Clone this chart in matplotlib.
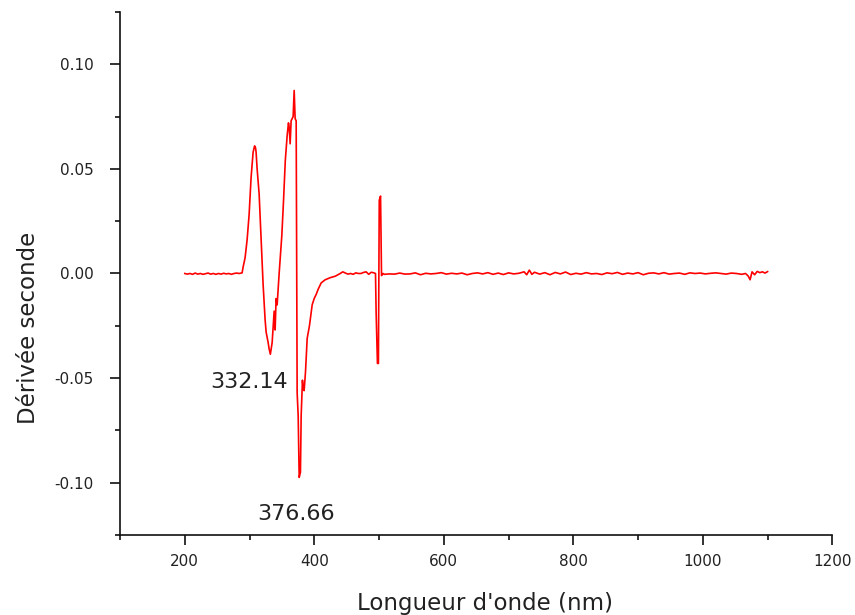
import numpy as np
import matplotlib
matplotlib.use("Agg")
import matplotlib.pyplot as plt
from matplotlib.ticker import MultipleLocator, FormatStrFormatter

plt.rcParams["font.family"] = ["DejaVu Sans"]
plt.rcParams["axes.unicode_minus"] = False

# Baseline before the absorption band (nm, second derivative)
wl_start = [200, 204, 208, 212, 216, 220, 224, 228, 232, 236, 240, 244,
            248, 252, 256, 260, 264, 268, 272, 276, 280, 284]
d2_start = [0.0, -0.0003, 0.0, -0.0004, 0.0002, -0.0003, 0.0, -0.0004,
            -0.0001, 0.0002, -0.0003, 0.0, -0.0004, 0.0, -0.0003, 0.0001,
            -0.0002, 0.0, -0.0004, 0.0, 0.0002, 0.0]

# Main band 288-440 nm
wl_band = [288.5, 290.0, 293.1, 296.2, 299.3, 302.4, 305.5, 307.8, 309.3,
           310.1, 311.7, 314.8, 317.8, 320.9, 324.0, 325.6, 328.7, 330.2,
           332.14, 334.9, 338.0, 339.5, 341.0, 342.6, 345.7, 349.8, 352.5,
           355.2, 358.1, 360.1, 361.2, 362.7, 364.2, 367.3, 368.9, 370.4,
           372.0, 373.5, 375.1, 376.66, 378.6, 379.7, 381.7, 382.8, 384.3,
           386.4, 389.0, 392.5, 396.7, 399.8, 402.9, 406.0, 410.6, 416.8,
           424.6, 432.3, 440.0]
d2_band = [0.0003, 0.003, 0.0075, 0.016, 0.028, 0.046, 0.058, 0.061, 0.060,
           0.058, 0.050, 0.038, 0.017, -0.005, -0.022, -0.028, -0.033, -0.036,
           -0.0386, -0.033, -0.018, -0.027, -0.012, -0.015, 0.000, 0.018, 0.035,
           0.054, 0.066, 0.072, 0.070, 0.062, 0.073, 0.075, 0.0875, 0.074,
           0.073, -0.057, -0.068, -0.0975, -0.095, -0.068, -0.051, -0.055, -0.056,
           -0.047, -0.031, -0.025, -0.015, -0.012, -0.010, -0.0075, -0.0045, -0.003,
           -0.002, -0.0013, 0.0]

# Region around the sharp feature near 500 nm
wl_mid = [444, 448, 452, 456, 460, 464, 468, 472, 476, 480, 484, 488, 492,
          494.5, 495.5, 497.5, 499.0, 500.3, 502.3, 503.8, 506]
d2_mid = [0.0008, 0.0002, -0.0003, 0.0, -0.0004, 0.0003, 0.0, 0.0, 0.0005,
          0.0008, -0.0004, 0.0006, 0.0003,
          0.0, -0.019, -0.043, -0.043, 0.035, 0.037, -0.001, 0.0]

# Tail 508-1100 nm
wl_tail = [508, 516, 524, 532, 540, 548, 556, 564, 572, 580, 588, 596, 604,
           612, 620, 628, 636, 644, 652, 660, 668, 676, 684, 692, 700, 708,
           716, 724, 728, 732, 736, 740, 748, 756, 764, 772, 780, 788, 796,
           804, 812, 820, 828, 836, 844, 852, 860, 868, 876, 884, 892, 900,
           908, 916, 924, 932, 940, 948, 956, 964, 972, 980, 988, 996, 1004,
           1012, 1020, 1028, 1036, 1044, 1052, 1060, 1066, 1070, 1073, 1076,
           1080, 1084, 1088, 1092, 1096, 1100]
d2_tail = [-0.0004, -0.0002, -0.0003, 0.0002, -0.0003, -0.0002, 0.0003,
           -0.0006, 0.0001, -0.0002, 0.0, 0.0004, -0.0003, 0.0001, -0.0002,
           0.0002, -0.0006, 0.0, 0.0003, -0.0002, 0.0004, -0.0004, 0.0002,
           -0.0005, 0.0003, -0.0002, 0.0001, 0.0008, -0.0006, 0.0016, -0.0004,
           0.0006, -0.0003, 0.0004, -0.0006, 0.0005, -0.0002, 0.0007, -0.0005,
           0.0001, -0.0003, 0.0004, -0.0002, 0.0, -0.0005, 0.0003, -0.0001,
           0.0005, -0.0004, 0.0002, -0.0002, 0.0004, -0.0006, 0.0001, 0.0003,
           -0.0002, 0.0004, -0.0003, 0.0, 0.0002, -0.0004, 0.0003, 0.0, 0.0002,
           -0.0002, 0.0001, 0.0003, 0.0, -0.0003, 0.0002, 0.0, -0.0004, 0.0,
           -0.0012, -0.003, 0.0008, -0.0006, 0.0010, 0.0004, 0.0008, 0.0002,
           0.0009]

# Labelled minima and where their labels sit
peak_labels = ["332.14", "376.66"]
label_x = [299.0, 372.5]
label_y = [-0.052, -0.115]

wavelength = np.array(wl_start + wl_band + wl_mid + wl_tail)
second_deriv = np.array(d2_start + d2_band + d2_mid + d2_tail)

fig = plt.figure(figsize=(8.55, 6.15), dpi=100)
ax = fig.add_axes([0.1404, 0.1301, 0.8331, 0.8504])

ax.plot(wavelength, second_deriv, color="red", lw=1.2)

for txt, tx, ty in zip(peak_labels, label_x, label_y):
    ax.text(tx, ty, txt, fontsize=16, ha="center", va="center", color="#222222")

ax.set_xlim(100, 1200)
ax.set_ylim(-0.125, 0.125)

ax.xaxis.set_major_locator(MultipleLocator(200))
ax.xaxis.set_minor_locator(MultipleLocator(100))
ax.yaxis.set_major_locator(MultipleLocator(0.05))
ax.yaxis.set_minor_locator(MultipleLocator(0.025))
ax.yaxis.set_major_formatter(FormatStrFormatter("%.2f"))

for s in ["top", "right"]:
    ax.spines[s].set_visible(False)
for s in ["left", "bottom"]:
    ax.spines[s].set_linewidth(1.2)
    ax.spines[s].set_color("#111111")

ax.tick_params(axis="both", which="major", direction="out", length=7,
               width=1.2, labelsize=11, labelcolor="#222222", color="#111111")
ax.tick_params(axis="both", which="minor", direction="out", length=3.5,
               width=1.2, color="#111111")
ax.tick_params(axis="y", which="major", pad=12)
ax.tick_params(axis="x", which="major", pad=6.5)

fig.text(0.5676, 0.0195, "Longueur d'onde (nm)", fontsize=16.5,
         ha="center", va="center", color="#222222")
fig.text(0.0328, 0.4664, "Dérivée seconde", fontsize=16.5, rotation=90,
         ha="center", va="center", color="#222222")

fig.savefig("out.png", dpi=100)
